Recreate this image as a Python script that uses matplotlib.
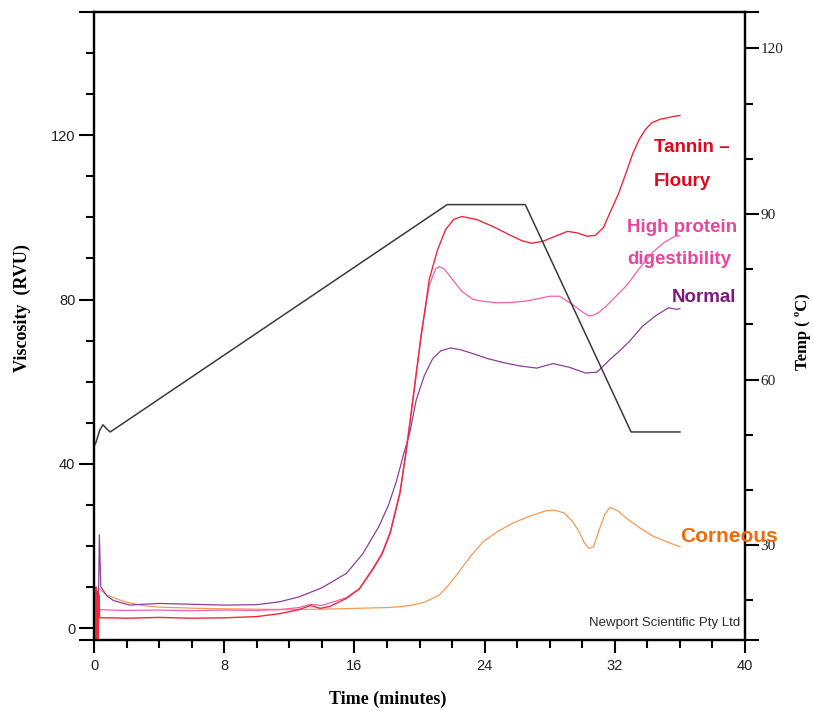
import matplotlib
matplotlib.use("Agg")
import matplotlib.pyplot as plt
from matplotlib.ticker import FixedLocator

# ---------------- data ----------------
temp_time = [0.0, 0.12, 0.35, 0.55, 0.8, 1.0, 21.7, 26.5, 33.0, 36.0]
temp_c = [47.9, 48.6, 50.8, 51.8, 51.0, 50.5, 91.7, 91.7, 50.5, 50.5]

tannin_t = [0.0, 0.06, 0.1, 0.14, 0.18, 0.22, 0.26, 0.3, 0.35, 1, 2, 4, 6, 8, 10, 11.4,
            12.6, 13.3, 13.9, 14.5, 15.5, 16.3, 17.1, 17.7, 18.2, 18.8, 19.2, 19.6, 20.1,
            20.6, 21.1, 21.6, 22.1, 22.6, 23.5, 24.5, 25.5, 26.3, 26.9, 27.6, 28.4, 29.1,
            29.7, 30.3, 30.8, 31.3, 31.7, 32.2, 32.7, 33.1, 33.5, 33.9, 34.3, 34.8, 35.3,
            35.8, 36.0]
tannin_v = [-3, 10, -3, 10, -3, 9, -3, 8, 2.5, 2.5, 2.4, 2.6, 2.4, 2.5, 2.8, 3.5,
            4.5, 5.5, 4.8, 5.3, 7.2, 9.5, 14.1, 18, 23.1, 32.8, 43.4, 55.6, 71,
            84.9, 92, 97, 99.5, 100.2, 99.5, 97.8, 95.8, 94.3, 93.7, 94.2, 95.5, 96.6,
            96.2, 95.4, 95.6, 97.5, 101.1, 105.5, 110.9, 115.5, 119, 121.5, 123.1, 123.9, 124.3,
            124.7, 124.8]

highprot_t = [0.3, 1, 2, 4, 6, 8, 10, 11.4, 12.6, 13.3, 14, 15.5, 16.3, 17.1, 17.7, 18.2,
              18.8, 19.2, 19.6, 20.1, 20.6, 21.0, 21.2, 21.5, 22, 22.6, 23.3, 24, 24.8,
              25.7, 26.5, 27.3, 28, 28.6, 29.4, 30, 30.4, 30.7, 31, 31.5, 32, 32.7, 33.5,
              34.3, 35, 35.7, 36]
highprot_v = [4.5, 4.4, 4.3, 4.4, 4.2, 4.4, 4.3, 4.5, 5, 5.8, 5.5, 7.4, 9.6, 14.3, 18.3, 23.5,
              33.2, 44, 56.2, 71.5, 83.5, 87.5, 88, 87.5, 85, 82, 80, 79.5, 79.2,
              79.3, 79.6, 80.2, 80.8, 80.8, 78.8, 77, 76, 76.2, 76.8, 78.5, 80.5, 83.3, 87.5,
              91.4, 93.8, 95.4, 95.5]

normal_t = [0.0, 0.2, 0.28, 0.33, 0.42, 0.8, 1.2, 2.2, 3, 4, 6, 8, 10, 11.4, 12.6, 14, 15.5,
            16.5, 17.5, 18.1, 18.6, 19.0, 19.4, 19.8, 20.3, 20.8, 21.3, 21.9, 22.5, 23.3,
            24.2, 25.2, 26.2, 27.2, 28.2, 29.2, 30.2, 30.9, 31.7, 32.3, 32.9, 33.7, 34.5,
            35.3, 35.8, 36]
normal_v = [-3, -3, 8, 22.7, 10, 7.8, 6.7, 5.6, 5.8, 6, 5.8, 5.6, 5.7, 6.4, 7.6, 9.8, 13.3,
            18, 24.7, 30, 36, 42, 47.5, 55.6, 61.5, 65.5, 67.5, 68.2, 67.8, 66.8,
            65.6, 64.6, 63.8, 63.3, 64.4, 63.5, 62.1, 62.3, 65.4, 67.5, 69.8, 73.5, 76,
            78, 77.6, 77.8]

corneous_t = [0.35, 0.8, 1.9, 3, 4, 6.5, 8, 10, 12, 14, 16, 18, 18.8, 19.6, 20.3, 21.2, 21.8,
              22.5, 23.2, 23.9, 24.8, 25.7, 26.8, 27.8, 28.3, 28.9, 29.4, 29.8, 30.1, 30.4,
              30.7, 31.0, 31.4, 31.7, 32.2, 32.8, 33.5, 34.3, 35.2, 36]
corneous_v = [9.5, 8, 6.4, 5.5, 5.1, 4.8, 4.7, 4.6, 4.5, 4.6, 4.8, 5.0, 5.2, 5.6, 6.3, 8, 10.5,
              14.1, 17.8, 21, 23.5, 25.5, 27.3, 28.6, 28.7, 28, 26, 23.5, 21, 19.4,
              19.8, 23.5, 27.8, 29.4, 28.5, 26.5, 24.5, 22.5, 21, 19.8]

x_major = [0, 8, 16, 24, 32, 40]
y_left_major = [0, 40, 80, 120]
y_right_major = [30, 60, 90, 120]

# ---------------- figure ----------------
W, H = 813, 713
fig = plt.figure(figsize=(W / 100, H / 100), dpi=100)
ax = fig.add_axes([94 / W, 1 - 640 / H, (745 - 94) / W, (640 - 12) / H])
ax2 = ax.twinx()

line_red = "#ec2a3c"
line_pink = "#f060ae"
line_purple = "#8e3f98"
line_orange = "#f59a55"

ax.plot(corneous_t, corneous_v, color=line_orange, lw=0.9, zorder=3)
ax.plot(normal_t, normal_v, color=line_purple, lw=0.9, zorder=4)
ax.plot(highprot_t, highprot_v, color=line_pink, lw=0.9, zorder=5)
ax.plot(tannin_t, tannin_v, color=line_red, lw=1.0, zorder=6)
ax2.plot(temp_time, temp_c, color="#3a3a3a", lw=1.1)

ax.set_xlim(0, 40)
ylo, yhi = -2.9, 150
ax.set_ylim(ylo, yhi)
tlo, thi = 12.8, 126.6
ax2.set_ylim(tlo, thi)

# spines
for a in (ax, ax2):
    for s in a.spines.values():
        s.set_linewidth(1.6)
        s.set_color("black")

# x ticks
ax.xaxis.set_major_locator(FixedLocator(x_major))
ax.xaxis.set_minor_locator(FixedLocator([v for v in range(0, 41, 2) if v % 8]))
ax.set_xticklabels([str(v) for v in x_major])
ax.tick_params(axis="x", which="major", direction="out", length=9, width=1.5, pad=5,
               labelsize=10.5, labelcolor="#222222")
ax.tick_params(axis="x", which="minor", direction="out", length=6, width=1.5)

# left y ticks
ax.yaxis.set_major_locator(FixedLocator([ylo] + y_left_major + [yhi]))
ax.set_yticklabels([""] + [str(v) for v in y_left_major] + [""])
ax.yaxis.set_minor_locator(FixedLocator([v for v in range(10, 150, 10) if v % 40]))
ax.tick_params(axis="y", which="major", direction="out", length=10.5, width=1.5, pad=3,
               labelsize=10.5, labelcolor="#222222")
ax.tick_params(axis="y", which="minor", direction="out", length=6, width=1.5)

# right y ticks
ax2.yaxis.set_major_locator(FixedLocator([tlo] + y_right_major + [thi]))
ax2.set_yticklabels([""] + [str(v) for v in y_right_major] + [""])
ax2.yaxis.set_minor_locator(FixedLocator([20, 40, 50, 70, 80, 100, 110]))
ax2.tick_params(axis="y", which="major", direction="out", length=10, width=1.5, pad=1,
                labelsize=11, labelcolor="#222222")
ax2.tick_params(axis="y", which="minor", direction="out", length=5.5, width=1.5)
for lab in ax.get_xticklabels() + ax.get_yticklabels():
    lab.set_fontfamily("Liberation Sans")
for lab in ax2.get_yticklabels():
    lab.set_fontfamily("Liberation Serif")

# axis titles
fig.text(22 / W, 1 - 308 / H, "Viscosity  (RVU)", rotation=90, ha="center", va="center",
         fontsize=13, fontweight="bold", family="Liberation Serif")
fig.text(388 / W, 1 - 699 / H, "Time (minutes)", ha="center", va="center",
         fontsize=13, fontweight="bold", family="Liberation Serif")
fig.text(803 / W, 1 - 332 / H, "Temp ( \u00baC)", rotation=90, ha="center", va="center",
         fontsize=12, fontweight="bold", family="Liberation Serif")

# series labels
def ftext(x, y, s, color):
    fig.text(x / W, 1 - y / H, s, ha="left", va="center", color=color, fontsize=13.5,
             fontweight="bold", family="Liberation Sans", zorder=10)

ftext(654, 148, "Tannin \u2013", "#e0061c")
ftext(654, 182, "Floury", "#e0061c")
ftext(627, 228, "High protein", "#e8459e")
ftext(627, 260, "digestibility", "#e8459e")
ftext(672, 297, "Normal", "#7d1a7f")
fig.text(680 / W, 1 - 537 / H, "Corneous", ha="left", va="center", color="#f06a08",
         fontsize=15, fontweight="bold", family="Liberation Sans", zorder=10)

fig.text(740 / W, 1 - 623 / H, "Newport Scientific Pty Ltd", ha="right", va="center",
         color="#2a2a2a", fontsize=9.5, family="Liberation Sans")

fig.savefig("out.png", dpi=100)
